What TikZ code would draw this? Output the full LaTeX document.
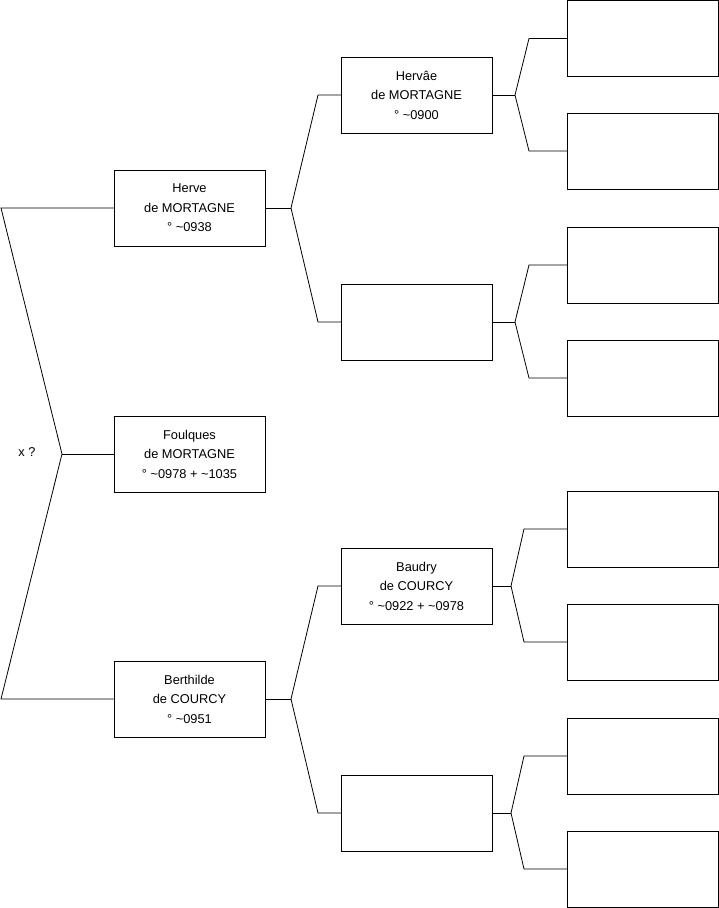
\documentclass[tikz,border=0pt]{standalone}
\usepackage{fontspec}
\setmainfont{Liberation Sans}
\begin{document}
\begin{tikzpicture}[x=1pt,y=-1pt,
  person/.style={draw, line width=0.8pt, minimum width=151pt, minimum height=76pt, inner sep=0pt, outer sep=0pt, align=center, font=\fontsize{12.8}{19.5}\selectfont, anchor=north west},
  link/.style={line width=0.8pt}]
\useasboundingbox (0,0) rectangle (719,908);
% generation 1
\node[person] (g1a) at (114,170) {Herve\\de MORTAGNE\\° \textasciitilde0938};
\node[person] (g1b) at (114,416) {Foulques\\de MORTAGNE\\° \textasciitilde0978 + \textasciitilde1035};
\node[person] (g1c) at (114,661) {Berthilde\\de COURCY\\° \textasciitilde0951};
% generation 2
\node[person] (g2a) at (341,57) {Hervâe\\de MORTAGNE\\° \textasciitilde0900};
\node[person] (g2b) at (341,284) {};
\node[person] (g2c) at (341,548) {Baudry\\de COURCY\\° \textasciitilde0922 + \textasciitilde0978};
\node[person] (g2d) at (341,775) {};
% generation 3
\node[person] (g3a) at (567,0.5) {};
\node[person] (g3b) at (567,113) {};
\node[person] (g3c) at (567,227) {};
\node[person] (g3d) at (567,340) {};
\node[person] (g3e) at (567,491) {};
\node[person] (g3f) at (567,604) {};
\node[person] (g3g) at (567,718) {};
\node[person] (g3h) at (567,831) {};
% root connectors
\coordinate (r) at (62,454);
\coordinate (rt) at (1,208);
\coordinate (rb) at (1,699);
\node[font=\fontsize{12.8}{14}\selectfont] (xq) at (27,452) {x ?};
\draw[link] (g1a.west) -- (rt) -- (r) -- (rb) -- (g1c.west);
\draw[link] (r) -- (g1b.west);
% generation 1 -> 2
\coordinate (j1a) at ([xshift=26pt]g1a.east);
\draw[link] (g1a.east) -- (j1a);
\draw[link] (j1a) -- ([xshift=-23pt]g2a.west) -- (g2a.west);
\draw[link] (j1a) -- ([xshift=-23pt]g2b.west) -- (g2b.west);
\coordinate (j1c) at ([xshift=26pt]g1c.east);
\draw[link] (g1c.east) -- (j1c);
\draw[link] (j1c) -- ([xshift=-23pt]g2c.west) -- (g2c.west);
\draw[link] (j1c) -- ([xshift=-23pt]g2d.west) -- (g2d.west);
% generation 2 -> 3
\coordinate (j2a) at ([xshift=23pt]g2a.east);
\draw[link] (g2a.east) -- (j2a);
\draw[link] (j2a) -- ([xshift=-38pt]g3a.west) -- (g3a.west);
\draw[link] (j2a) -- ([xshift=-38pt]g3b.west) -- (g3b.west);
\coordinate (j2b) at ([xshift=23pt]g2b.east);
\draw[link] (g2b.east) -- (j2b);
\draw[link] (j2b) -- ([xshift=-38pt]g3c.west) -- (g3c.west);
\draw[link] (j2b) -- ([xshift=-38pt]g3d.west) -- (g3d.west);
\coordinate (j2c) at ([xshift=19pt]g2c.east);
\draw[link] (g2c.east) -- (j2c);
\draw[link] (j2c) -- ([xshift=-43pt]g3e.west) -- (g3e.west);
\draw[link] (j2c) -- ([xshift=-43pt]g3f.west) -- (g3f.west);
\coordinate (j2d) at ([xshift=19pt]g2d.east);
\draw[link] (g2d.east) -- (j2d);
\draw[link] (j2d) -- ([xshift=-43pt]g3g.west) -- (g3g.west);
\draw[link] (j2d) -- ([xshift=-43pt]g3h.west) -- (g3h.west);
\end{tikzpicture}
\end{document}
